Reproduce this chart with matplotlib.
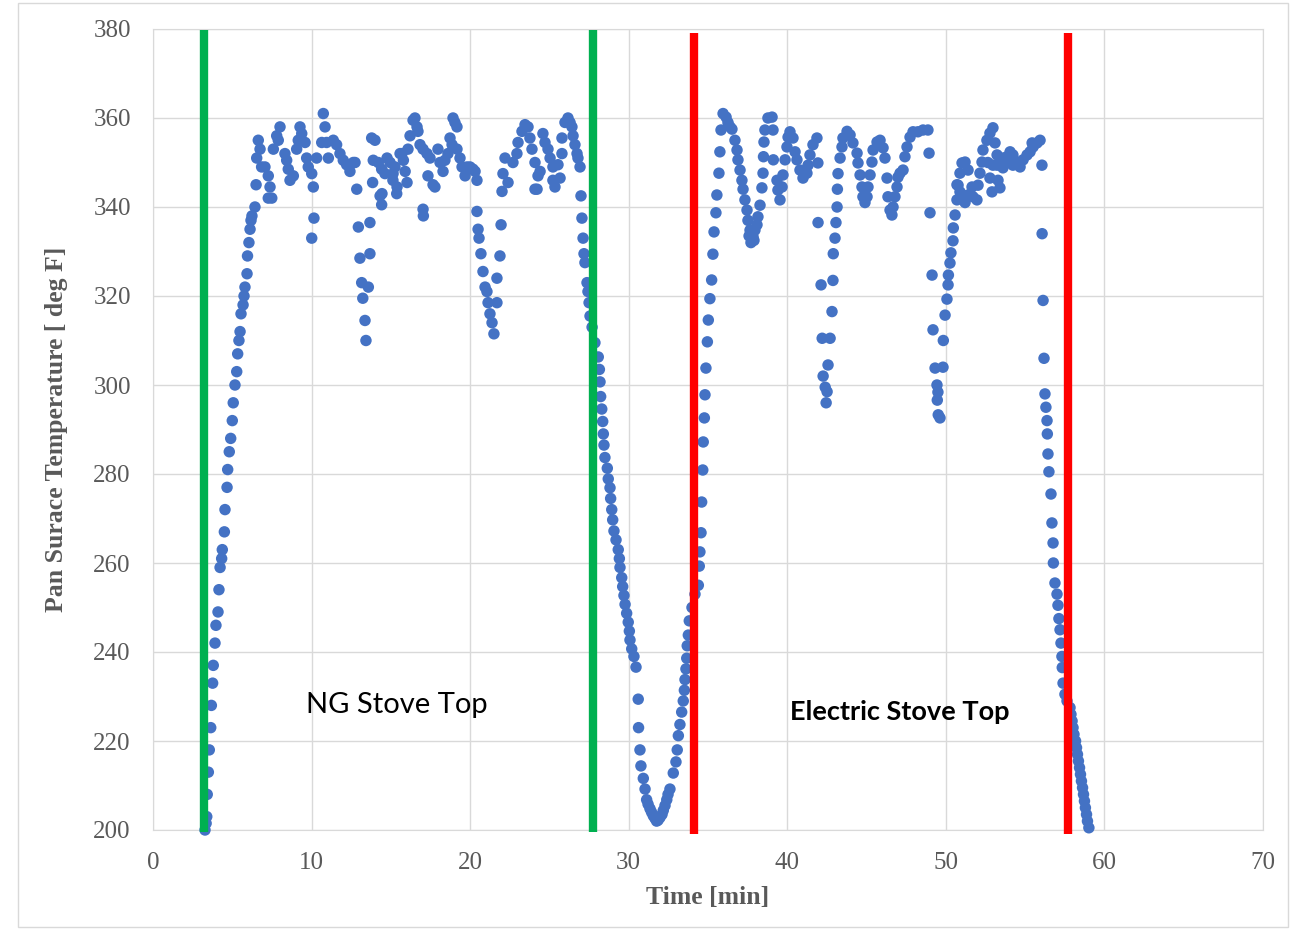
import matplotlib.pyplot as plt
from matplotlib.patches import Rectangle

# NG stove heat-up
ng_heat_time = [3.28, 3.35, 3.39, 3.42, 3.49, 3.55, 3.64, 3.68, 3.76, 3.80, 3.91, 3.97, 4.10, 4.16,
                4.23, 4.33, 4.37, 4.50, 4.54, 4.67, 4.71, 4.81, 4.90, 5.00, 5.06, 5.17, 5.28, 5.34,
                5.42, 5.49, 5.55, 5.68, 5.74, 5.80, 5.93, 5.96, 6.05, 6.12, 6.18, 6.24, 6.43, 6.50]
ng_heat_temp = [200, 201.5, 203, 208, 213, 218, 223, 228, 233, 237, 242, 246, 249, 254,
                259, 261, 263, 267, 272, 277, 281, 285, 288, 292, 296, 300, 303, 307,
                310, 312, 316, 318, 320, 322, 325, 329, 332, 335, 337, 338, 340, 345]

# NG stove holding
ng_hold_time = [6.64, 6.75, 6.54, 6.85, 7.06, 7.27, 7.38, 7.27, 7.49, 7.59, 7.80, 8.01, 7.90, 8.32,
                8.43, 8.53, 8.64, 8.85, 9.06, 9.16, 9.27, 9.38, 9.59, 9.69, 9.79, 10.01, 10.32, 10.11,
                10.15, 10.01, 10.74, 10.85, 10.64, 10.95, 11.06, 11.37, 11.58, 11.79, 12.00, 12.21, 12.42, 12.63,
                12.74, 12.85, 12.95, 13.05, 13.16, 13.23, 13.37, 13.43, 13.58, 13.68, 13.68, 13.85, 13.79, 14.00,
                13.89, 14.21, 14.42, 14.63, 14.32, 14.42, 14.95, 15.26, 15.37, 15.58, 15.79, 14.44, 15.13, 14.76,
                15.39, 15.14, 15.70, 15.90, 16.02, 16.08, 16.21, 16.40, 16.52, 16.65, 16.71, 16.84, 17.03, 17.28,
                17.34, 17.47, 17.66, 17.78, 17.97, 18.10, 18.29, 18.41, 18.60, 18.73, 18.86, 18.92, 19.04, 19.17,
                19.17, 19.36, 19.49, 19.68, 19.80, 19.99, 20.18, 20.31, 20.43, 17.03, 17.05,
                20.43, 20.50, 20.56, 20.68, 20.81, 20.94, 21.06, 21.13, 21.25, 21.38, 21.50, 21.69, 21.69, 21.88,
                21.95, 22.01, 22.07, 22.20, 22.39, 22.70, 22.95, 23.02, 23.27, 23.46, 23.65, 23.77, 23.90, 24.09,
                24.28, 24.22, 24.09, 24.41, 24.59, 24.72, 24.91, 25.04, 25.22, 25.35, 25.22, 25.54, 25.67, 25.79,
                25.79, 25.98, 26.17, 26.30, 26.42, 26.49, 26.61, 26.74, 26.80, 26.93]
ng_hold_temp = [355, 353, 351, 349, 349, 347, 344.5, 342, 342, 353, 356, 358, 355, 352,
                350.5, 348.5, 346, 347, 353, 355, 358, 356.5, 354.5, 351, 349, 347.5, 351, 344.5,
                337.5, 333, 361, 358, 354.5, 354.5, 351, 355, 354, 352, 350.5, 349.5, 348, 350,
                350, 344, 335.5, 328.5, 323, 319.5, 314.5, 310, 322, 329.5, 336.5, 345.5, 355.5, 355,
                350.5, 350, 348.5, 347.5, 342.5, 340.5, 350, 349, 343, 352, 350.5, 343, 346, 351,
                344.5, 347.5, 352, 348, 345.5, 353, 356, 359.5, 360, 358, 357, 354, 353, 352,
                347, 351, 345, 344.5, 353, 350, 348, 350.5, 352, 355.5, 354, 360, 359, 358,
                353, 351, 349, 347, 349, 349, 348.5, 348, 346, 339.5, 338,
                339, 335, 333, 329.5, 325.5, 322, 321, 318.5, 316, 314, 311.5, 318.5, 324, 329,
                336, 343.5, 347.5, 351, 345.5, 350, 352, 354.5, 357, 358.5, 358, 355.5, 353, 350,
                347, 344, 344, 348, 356.5, 354.5, 353, 351, 349, 344.5, 346, 349.5, 346.5, 355.5,
                352, 359, 360, 359, 358, 356, 354, 352, 351, 349]

# cool-down between stoves and electric heat-up
swap_time = [26.99, 27.05, 27.12, 27.18, 27.24, 27.37, 27.43, 27.50, 27.56, 27.69, 27.87, 28.08, 28.15, 28.19,
             28.23, 28.30, 28.36, 28.40, 28.44, 28.50, 28.65, 28.71, 28.82, 28.86, 28.93, 28.99, 29.07, 29.20,
             29.34, 29.41, 29.45, 29.56, 29.62, 29.70, 29.77, 29.87, 29.97, 30.04, 30.08, 30.19, 30.33, 30.46,
             30.60, 30.62, 30.71, 30.77, 30.92, 31.03, 31.13, 31.22, 31.34, 31.44, 31.55, 31.66, 31.76, 31.85,
             31.97, 32.10, 32.18, 32.29, 32.40, 32.48, 32.60, 32.81, 32.98, 33.06, 33.13, 33.23, 33.34, 33.44,
             33.51, 33.55, 33.61, 33.66, 33.69, 33.76, 33.82, 33.99, 34.18, 34.39, 34.45, 34.49, 34.56, 34.60,
             34.67, 34.70, 34.77, 34.81, 34.87, 34.96, 35.02, 35.12, 35.23, 35.31, 35.38, 35.50, 35.56, 35.69,
             35.75, 35.82, 35.95]
swap_temp = [342.5, 337.5, 333, 329.5, 327.5, 323, 321, 318.5, 315.5, 313, 309.5, 306.3, 303.5, 300.7,
             297.4, 294.6, 291.8, 289, 286.5, 283.7, 281.3, 278.9, 276.9, 274.5, 272, 269.7, 267.2, 265.2,
             263, 261, 259, 256.7, 254.7, 252.7, 250.7, 248.7, 246.7, 244.7, 242.7, 240.7, 239, 236.6,
             229.4, 223, 218, 214.4, 211.6, 209.2, 206.8, 205.8, 204.8, 204, 203.2, 202.6, 202, 202.2,
             202.8, 203.5, 204.4, 205.5, 206.8, 208, 209.2, 212.8, 215.3, 218, 221.2, 223.7, 226.5, 229,
             231.4, 233.8, 236.2, 238.6, 241.4, 243.8, 247, 250, 253, 255, 259.3, 262.5, 266.8, 273.7,
             280.9, 287.2, 292.6, 297.8, 303.8, 309.7, 314.6, 319.4, 323.6, 329.4, 334.4, 338.7, 342.7, 347.6,
             352.4, 357.3, 361]

# electric stove holding
el_hold_time = [36.14, 36.26, 36.39, 36.51, 36.70, 36.83, 36.89, 37.02, 37.14, 37.21, 37.33, 37.46, 37.52, 37.59,
                37.65, 37.71, 37.77, 37.84, 37.90, 37.96, 38.09, 38.15, 38.28, 38.40, 38.47, 38.50, 38.53, 38.59,
                38.78, 39.04, 39.10, 39.12, 39.35, 39.41, 39.54, 39.67, 39.73, 39.86, 39.98, 40.05, 40.17, 40.36,
                40.49, 40.61, 40.80, 40.99, 41.24, 41.31, 41.43, 41.62, 41.87, 41.93,
                41.94, 42.13, 42.20, 42.26, 42.39, 42.51, 42.45, 42.57, 42.70, 42.82, 42.88, 42.90, 43.01, 43.07,
                43.14, 43.16, 43.20, 43.33, 43.45, 43.51, 43.77, 43.96, 44.14, 44.40, 44.46, 44.59, 44.71, 44.77,
                44.90, 45.03, 45.09, 45.22, 45.34, 45.41, 45.66, 45.85, 46.04, 46.16, 46.29, 46.35, 46.48, 46.60,
                46.67, 46.79, 46.92, 46.98, 47.11, 47.30, 47.42, 47.55, 47.74, 47.93, 48.24, 48.56, 48.87, 48.94,
                49.00, 49.13, 49.19, 49.32, 49.44, 49.50, 49.46, 49.52, 49.63, 49.82, 49.84, 49.95, 50.07, 50.14,
                50.16, 50.26, 50.32, 50.45, 50.47, 50.58, 50.70, 50.77, 50.89, 51.02, 51.21, 51.40, 51.65, 51.71,
                51.96, 52.03, 52.15, 52.28, 52.34, 52.59, 52.78, 52.97, 53.10, 53.23, 53.29, 53.41, 53.60, 53.86,
                54.05, 54.23, 54.49, 54.68, 54.87, 55.12, 55.31, 55.50, 55.75, 55.94, 56.06,
                50.70, 50.89, 51.02, 51.21, 51.40, 52.65, 52.78, 52.91, 52.97, 53.23, 53.60, 54.05, 54.23, 55.44]
el_hold_temp = [360.2, 359, 358, 357.5, 355, 352.8, 350.6, 348.3, 346, 344, 341.6, 339.3, 337, 333.5,
                334.8, 332, 332.6, 333.3, 332.5, 334.8, 336, 337.8, 340.4, 344.3, 347.6, 351.3, 354.6, 357.3,
                360, 360.2, 357.3, 350.6, 346, 343.8, 341.6, 344.5, 347.2, 350.6, 353.5, 355.7, 356.9, 355.5,
                352.4, 350.6, 348.3, 346.5, 347.6, 349.4, 351.7, 354, 355.5, 349.9,
                336.5, 322.5, 310.5, 302, 299.5, 298.5, 296, 304.5, 310.5, 316.5, 323.5, 329.5, 333, 336.5,
                340, 344, 347.5, 351, 353.5, 355.5, 357, 356.2, 354.4, 352.1, 349.9, 347.2, 344.5, 342.3,
                341, 342.3, 344.5, 347.2, 350.1, 352.8, 354.6, 355, 353.3, 351, 346.5, 342.3, 339.3, 338.2,
                340, 342.3, 344.5, 346.7, 347.6, 348.3, 351.3, 353.5, 355.7, 356.9, 356.9, 357.3, 357.3, 352.1,
                338.7, 324.7, 312.4, 303.8, 300, 298.4, 296.6, 293.3, 292.6, 304, 310, 315.7, 319.3, 322.5,
                324.7, 327.4, 329.7, 332.4, 335.3, 338.2, 341.6, 344.9, 347.6, 349.9, 350.1, 348.3, 344.5, 342.3,
                341.6, 344.9, 347.6, 350.1, 352.8, 355, 356.6, 357.8, 354.4, 349.4, 346, 344.3, 348.8, 351.3,
                352.4, 351.7, 350.1, 349, 350.6, 351.7, 352.4, 353.5, 354.4, 355, 349.4,
                345, 343.4, 342, 341, 342.7, 350, 346.5, 343.4, 349.4, 351.7, 351, 350.1, 349.4, 354.4]

# electric stove cool-down
el_cool_time = [56.07, 56.13, 56.19, 56.25, 56.31, 56.38, 56.40, 56.44, 56.50, 56.63, 56.69, 56.76, 56.78, 56.88,
                57.01, 57.07, 57.13, 57.20, 57.26, 57.32, 57.34, 57.39, 57.51, 57.64, 57.83, 57.89, 57.96, 58.02,
                58.08, 58.18, 58.24, 58.30, 58.36, 58.43, 58.49, 58.55, 58.62, 58.68, 58.74, 58.80, 58.87, 58.93,
                59.02]
el_cool_temp = [334, 319, 306, 298, 295, 292, 289, 284.5, 280.5, 275.5, 269, 264.5, 260, 255.5,
                253, 250.5, 247.5, 245, 242, 239, 236.5, 233, 230.5, 229, 227.5, 226, 224.5, 223,
                221.5, 220, 218.5, 217, 215.5, 214, 212.5, 211, 209.5, 208, 206.5, 205, 203.5, 202,
                200.5]

# burner on/off marks [min]
ng_marks = [3.22, 27.73]
el_marks = [34.09, 57.71]

label_font = ["Liberation Serif", "DejaVu Serif"]
gray = "#595959"

fig = plt.figure(figsize=(12.91, 9.30), dpi=100)
fig.patches.append(Rectangle((18 / 1291, 3 / 930), 1270 / 1291, 924 / 930, transform=fig.transFigure,
                             fill=False, edgecolor="#D9D9D9", linewidth=1))
ax = fig.add_axes([153 / 1291, 1 - 830 / 930, 1110 / 1291, 801 / 930])

blue = "#4472C4"
for t, T in [(ng_heat_time, ng_heat_temp), (ng_hold_time, ng_hold_temp), (swap_time, swap_temp),
             (el_hold_time, el_hold_temp), (el_cool_time, el_cool_temp)]:
    ax.scatter(t, T, s=68, color=blue, edgecolors="none", zorder=3, clip_on=False)

for x in ng_marks:
    ax.plot([x, x], [199.5, 379.8], color="#00B050", linewidth=6, solid_capstyle="butt", zorder=4, clip_on=False)
for x in el_marks:
    ax.plot([x, x], [199.2, 379.0], color="#FF0000", linewidth=6, solid_capstyle="butt", zorder=4, clip_on=False)

ax.set_xlim(0, 70)
ax.set_ylim(200, 380)
ax.set_xticks(range(0, 71, 10))
ax.set_yticks(range(200, 381, 20))
ax.grid(True, color="#D9D9D9", linewidth=1)
ax.set_axisbelow(True)
for s in ax.spines.values():
    s.set_color("#D9D9D9")
ax.tick_params(length=0, pad=16, labelsize=18, labelcolor=gray)
for lab in ax.get_xticklabels() + ax.get_yticklabels():
    lab.set_family(label_font)

ax.text(15.4, 228, "NG Stove Top", fontsize=21, family=["Lato", "DejaVu Sans"], ha="center", va="center")
ax.text(47.1, 226.5, "Electric Stove Top", fontsize=19.5, fontweight="bold", family=["Lato", "DejaVu Sans"],
        ha="center", va="center")

fig.text(57 / 1291, 1 - 429 / 930, "Pan Surace Temperature [ deg F]", rotation=90, ha="center", va="center",
         fontsize=18.5, fontweight="bold", color=gray, family=label_font)
fig.text(708 / 1291, 1 - 897 / 930, "Time [min]", ha="center", va="center",
         fontsize=18.5, fontweight="bold", color=gray, family=label_font)

fig.savefig("out.png", dpi=100)
